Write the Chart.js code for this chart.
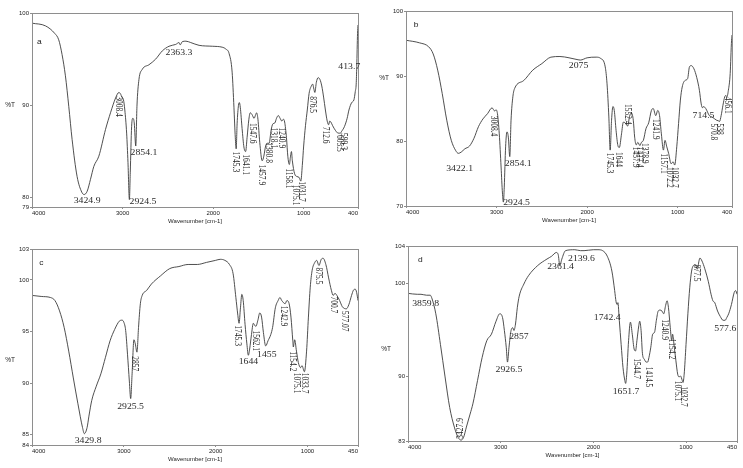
<!DOCTYPE html>
<html>
<head>
<meta charset="utf-8">
<script src="https://cdn.jsdelivr.net/npm/chart.js@4.4.1/dist/chart.umd.min.js"></script>
<style>
  html, body { margin: 0; padding: 0; background: #fff; }
  #wrap { position: relative; width: 743px; height: 468px; overflow: hidden; }
  #wrap canvas { position: absolute; }
</style>
</head>
<body>
<div id="wrap">
  <canvas id="chart-a" width="372" height="234" style="left:0;top:0"></canvas>
  <canvas id="chart-b" width="371" height="234" style="left:372px;top:0"></canvas>
  <canvas id="chart-c" width="372" height="234" style="left:0;top:234px"></canvas>
  <canvas id="chart-d" width="371" height="234" style="left:372px;top:234px"></canvas>
</div>
<script>
// ---- spectrum a ----
const waveA = [4000, 3850, 3750, 3705, 3668, 3631, 3594, 3557, 3502, 3450, 3424.9, 3391, 3354, 3317, 3262, 3188, 3133, 3077, 3040, 3020, 3008.4, 2990, 2975, 2955, 2940, 2924.5, 2915, 2900, 2886, 2871, 2854.1, 2841, 2819, 2782, 2708, 2635, 2561, 2487, 2413, 2376, 2363.3, 2340, 2300, 2247, 2155, 2007, 1900, 1860, 1823, 1790, 1770, 1755, 1745.3, 1735, 1720, 1710, 1700, 1680, 1660, 1641.1, 1625, 1605, 1590, 1570, 1547.6, 1530, 1520, 1505, 1485, 1457.9, 1440, 1420, 1400, 1380.8, 1360, 1340, 1318.1, 1300, 1280, 1260, 1240.9, 1225, 1210, 1190, 1175, 1158.1, 1145, 1135, 1125, 1100, 1075.1, 1050, 1031.7, 1015, 1000, 980, 960, 940, 915, 900, 890, 876.5, 860, 840, 820, 800, 780, 760, 740, 725, 712.6, 700, 680, 650, 620, 605.5, 599.3, 580, 550, 520, 500, 470, 445, 430, 420, 413.7, 405, 400];
const transA = [98.9, 98.6, 97.8, 97.1, 95.5, 93.2, 89.9, 86.3, 82.3, 80.6, 80.35, 80.7, 82.0, 83.4, 84.5, 87.4, 89.2, 90.8, 91.4, 91.2, 90.9, 90.6, 89.5, 87.0, 83.8, 79.8, 82.7, 87.7, 88.6, 88.1, 85.6, 89.9, 92.8, 93.9, 94.4, 95.0, 95.9, 96.4, 96.6, 96.8, 96.55, 96.9, 96.95, 96.8, 96.5, 96.4, 96.3, 96.1, 95.6, 93.6, 89.8, 86.5, 85.3, 88.0, 90.0, 90.3, 89.8, 87.5, 85.5, 85.0, 86.5, 88.5, 89.2, 89.0, 88.6, 89.0, 89.2, 88.5, 86.0, 84.0, 84.5, 85.6, 85.9, 85.9, 87.3, 88.0, 88.1, 88.6, 88.9, 88.6, 88.3, 88.5, 88.2, 86.5, 84.5, 83.6, 84.5, 85.0, 84.0, 82.6, 82.3, 82.2, 81.8, 83.5, 85.6, 87.8, 89.5, 91.3, 92.1, 92.3, 91.9, 91.4, 92.5, 93.0, 92.8, 92.1, 90.9, 89.5, 88.3, 87.9, 88.3, 88.2, 87.8, 87.3, 87.0, 87.0, 86.95, 87.2, 87.7, 88.6, 89.5, 90.3, 90.6, 91.5, 92.3, 94.2, 97.8, 98.7];
const xTicksA = [400, 1000, 2000, 3000, 4000];
const yTicksA = [79, 80, 90, 100];
// [label, wavenumber, %T, orientation]
const peaksA = [
  ['3424.9', 3391, 79.6, 'h'], ['3008.4', 3041, 91.0, 'v'], ['2854.1', 2764, 84.8, 'h'],
  ['2924.5', 2775, 79.5, 'h'], ['2363.3', 2377, 95.7, 'h'], ['1745.3', 1750, 85.0, 'v'],
  ['1641.1', 1647, 84.7, 'v'], ['1547.6', 1565, 88.1, 'v'], ['1457.9', 1462, 83.6, 'v'],
  ['1380.8', 1388, 86.0, 'v'], ['1318.1', 1337, 87.6, 'v'], ['1240.9', 1248, 87.6, 'v'],
  ['1158.1', 1167, 83.2, 'v'], ['1075.1', 1086, 81.4, 'v'], ['1031.7', 1027, 81.8, 'v'],
  ['876.5', 902, 91.0, 'v'], ['712.6', 754, 87.7, 'v'], ['605.5', 606, 86.8, 'v'],
  ['599.3', 562, 87.0, 'v'], ['413.7', 496, 94.2, 'h']
];

// ---- spectrum b ----
const waveB = [4000, 3850, 3750, 3700, 3650, 3600, 3550, 3500, 3450, 3422.1, 3390, 3350, 3300, 3250, 3200, 3150, 3100, 3050, 3020, 3008.4, 2990, 2970, 2950, 2935, 2924.5, 2915, 2900, 2885, 2870, 2854.1, 2840, 2820, 2800, 2700, 2600, 2500, 2400, 2300, 2200, 2100, 2075, 2000, 1900, 1850, 1800, 1780, 1760, 1745.3, 1730, 1715, 1700, 1680, 1660, 1644, 1620, 1600, 1580, 1552.4, 1530, 1510, 1490, 1475, 1457.9, 1440, 1417.4, 1400, 1378.9, 1350, 1320, 1290, 1270, 1241.9, 1220, 1200, 1180, 1157.1, 1140, 1120, 1100, 1072.2, 1050, 1032.7, 1010, 990, 970, 950, 920, 890, 870, 850, 820, 790, 760, 740, 725, 714.5, 690, 650, 620, 570.8, 550, 538, 520, 500, 480, 466, 456.1, 440, 420, 405, 400];
const transB = [95.5, 95.1, 94.5, 93.4, 90.9, 87.3, 83.2, 80.1, 78.5, 78.1, 78.3, 78.8, 79.2, 80.4, 82.2, 83.4, 84.2, 85.1, 84.6, 84.8, 84.2, 81.1, 76.0, 72.0, 70.6, 72.9, 79.1, 81.4, 80.6, 77.6, 83.2, 86.8, 88.1, 89.3, 90.9, 91.9, 92.9, 93.0, 92.8, 92.5, 92.45, 92.8, 92.9, 92.7, 91.4, 88.8, 83.7, 78.6, 83.2, 85.3, 84.7, 81.6, 79.3, 79.0, 81.1, 82.9, 82.8, 82.3, 83.9, 84.3, 83.2, 80.6, 79.4, 79.8, 79.3, 79.8, 80.1, 81.9, 82.8, 84.7, 85.0, 83.9, 84.7, 83.9, 81.1, 78.6, 80.1, 79.1, 78.1, 76.5, 76.8, 76.3, 79.1, 82.7, 86.3, 88.3, 89.3, 89.6, 91.4, 91.6, 91.1, 89.8, 87.8, 85.7, 85.1, 85.3, 85.0, 83.9, 83.7, 83.2, 83.1, 83.0, 83.9, 85.5, 86.8, 87.0, 86.8, 87.8, 90.4, 95.5, 96.3];
const xTicksB = [400, 1000, 2000, 3000, 4000];
const yTicksB = [70, 80, 90, 100];
const peaksB = [
  ['3422.1', 3408, 75.7, 'h'], ['3008.4', 3038, 83.9, 'v'], ['2854.1', 2761, 76.5, 'h'],
  ['2924.5', 2779, 70.5, 'h'], ['2075', 2095, 91.6, 'h'], ['1745.3', 1747, 78.2, 'v'],
  ['1644', 1651, 78.3, 'v'], ['1552.4', 1558, 85.7, 'v'], ['1457.9', 1466, 79.1, 'v'],
  ['1417.4', 1418, 79.1, 'v'], ['1378.9', 1362, 79.7, 'v'], ['1241.9', 1244, 83.4, 'v'],
  ['1157.1', 1159, 78.1, 'v'], ['1072.2', 1085, 76.0, 'v'], ['1032.7', 1029, 76.0, 'v'],
  ['714.5', 715, 83.9, 'h'], ['570.8', 608, 82.7, 'v'], ['538', 541, 82.7, 'v'],
  ['456.1', 445, 86.8, 'v']
];

// ---- spectrum c ----
const waveC = [4000, 3900, 3800, 3750, 3700, 3650, 3600, 3550, 3500, 3450, 3429.8, 3400, 3380, 3350, 3300, 3250, 3200, 3150, 3100, 3050, 3020, 3000, 2980, 2960, 2940, 2925.5, 2910, 2890, 2875, 2857, 2840, 2820, 2800, 2750, 2700, 2600, 2500, 2400, 2300, 2200, 2100, 2000, 1950, 1900, 1850, 1810, 1780, 1760, 1745.3, 1730, 1715, 1700, 1680, 1660, 1644, 1630, 1610, 1590, 1575, 1562.1, 1540, 1520, 1500, 1480, 1455, 1430, 1400, 1380, 1350, 1320, 1300, 1280, 1242.9, 1225, 1200, 1180, 1160, 1154.2, 1140, 1120, 1100, 1075.1, 1060, 1033.7, 1010, 990, 970, 950, 920, 900, 875.5, 850, 830, 800, 770, 740, 720, 700.7, 680, 650, 620, 577.07, 550, 520, 500, 480, 465, 450];
const transC = [98.5, 98.4, 98.3, 98.0, 97.0, 95.4, 93.1, 90.5, 88.0, 85.7, 85.1, 85.7, 86.8, 88.3, 89.7, 90.9, 92.5, 94.1, 95.2, 96.0, 96.1, 95.9, 95.1, 92.8, 90.2, 88.5, 90.9, 94.2, 93.8, 93.0, 95.4, 97.7, 98.5, 99.0, 99.6, 100.4, 101.1, 101.3, 101.5, 101.5, 101.7, 101.9, 102.0, 101.9, 101.5, 100.6, 98.3, 96.7, 95.8, 97.3, 98.6, 98.0, 95.7, 93.8, 92.7, 93.3, 94.7, 95.8, 95.6, 95.5, 96.1, 96.8, 96.4, 94.9, 93.6, 94.1, 94.7, 95.4, 97.3, 98.0, 98.3, 98.0, 97.7, 98.0, 97.7, 96.4, 94.1, 93.5, 94.2, 93.1, 92.0, 91.5, 91.7, 91.1, 93.1, 96.4, 99.3, 100.9, 101.7, 101.9, 101.4, 102.0, 102.1, 101.5, 100.2, 99.0, 98.5, 98.7, 98.5, 98.0, 97.4, 97.2, 97.6, 98.5, 99.0, 99.1, 98.8, 98.0];
const xTicksC = [450, 1000, 2000, 3000, 4000];
const yTicksC = [84, 85, 90, 95, 100, 103];
const peaksC = [
  ['3429.8', 3389, 84.4, 'h'], ['2925.5', 2927, 87.7, 'h'], ['2857', 2880, 92.6, 'v'],
  ['1745.3', 1759, 95.6, 'v'], ['1644', 1643, 92.0, 'h'], ['1562.1', 1570, 95.1, 'v'],
  ['1455', 1443, 92.7, 'h'], ['1242.9', 1261, 97.5, 'v'], ['1154.2', 1163, 93.1, 'v'],
  ['1075.1', 1115, 91.0, 'v'], ['1033.7', 1035, 91.0, 'v'], ['875.5', 879, 101.2, 'v'],
  ['700.7', 715, 98.4, 'v'], ['577.07', 599, 97.0, 'v']
];

// ---- spectrum d ----
const waveD = [4000, 3900, 3859.8, 3800, 3760, 3740, 3700, 3650, 3600, 3550, 3500, 3460, 3427.9, 3400, 3370, 3330, 3300, 3250, 3200, 3150, 3100, 3050, 3010, 2980, 2960, 2940, 2926.5, 2910, 2890, 2870, 2857, 2840, 2820, 2800, 2750, 2700, 2600, 2500, 2450, 2400, 2380, 2361.4, 2340, 2300, 2200, 2139.6, 2100, 2000, 1950, 1900, 1850, 1800, 1770, 1755, 1742.4, 1735, 1720, 1700, 1680, 1660, 1651.7, 1640, 1620, 1600, 1580, 1560, 1544.7, 1530, 1510, 1500, 1485, 1470, 1450, 1430, 1414.5, 1400, 1380, 1360, 1340, 1320, 1300, 1280, 1260, 1240.9, 1220, 1205, 1190, 1170, 1154.2, 1145, 1130, 1110, 1090, 1075.1, 1060, 1040, 1032.7, 1020, 1000, 980, 960, 940, 920, 900, 877.5, 860, 850, 820, 790, 760, 730, 710, 690, 660, 630, 600, 577.6, 560, 540, 510, 480, 465, 450];
const transD = [98.9, 98.8, 98.8, 98.7, 98.7, 98.3, 96.7, 93.4, 89.9, 86.6, 84.5, 83.4, 83.1, 83.4, 84.5, 85.9, 87.0, 89.5, 92.0, 93.8, 94.5, 95.9, 96.7, 96.3, 94.9, 93.1, 91.5, 93.1, 94.8, 95.2, 94.9, 95.6, 97.4, 98.6, 99.9, 100.8, 101.9, 102.6, 102.9, 103.3, 103.1, 101.9, 102.6, 103.5, 103.6, 103.5, 103.5, 103.6, 103.6, 103.5, 102.9, 101.3, 99.2, 98.0, 97.7, 97.9, 96.0, 93.4, 90.9, 89.5, 89.2, 90.2, 93.8, 95.8, 94.5, 92.9, 92.7, 93.8, 95.4, 95.9, 94.9, 92.4, 91.8, 91.5, 91.5, 92.0, 93.1, 94.5, 94.7, 96.0, 97.0, 97.1, 97.0, 96.7, 97.6, 98.1, 97.4, 95.2, 93.8, 94.5, 93.4, 91.7, 90.2, 89.9, 90.0, 89.5, 89.3, 90.2, 93.4, 96.7, 99.5, 101.3, 101.9, 102.0, 101.5, 102.4, 102.7, 102.2, 101.3, 100.2, 98.8, 98.1, 97.9, 97.0, 96.4, 96.0, 96.0, 96.3, 96.7, 97.7, 99.0, 99.2, 98.8];
const xTicksD = [450, 1000, 2000, 3000, 4000];
const yTicksD = [83, 90, 100, 104];
const peaksD = [
  ['3859.8', 3810, 97.8, 'h'], ['3427.9', 3432, 83.25, 'u'], ['2926.5', 2911, 90.65, 'h'],
  ['2857', 2803, 94.2, 'h'], ['2361.4', 2354, 101.75, 'h'], ['2139.6', 2128, 102.6, 'h'],
  ['1742.4', 1851, 96.2, 'h'], ['1651.7', 1647, 88.3, 'h'], ['1544.7', 1535, 91.9, 'v'],
  ['1414.5', 1409, 91.0, 'v'], ['1240.9', 1233, 96.1, 'v'], ['1154.2', 1151, 94.0, 'v'],
  ['1075.1', 1093, 89.5, 'v'], ['1032.7', 1025, 88.9, 'v'], ['877.5', 881, 102.0, 'v'],
  ['577.6', 576, 95.1, 'h']
];

Chart.defaults.font.family = '"Liberation Sans", Arial, sans-serif';
Chart.defaults.color = '#222';

const STRETCH = 1.3; // the scanned figure is wider than tall

// frame, peak labels, panel letter and the %T caption
function annotate(peaks, letter, letterAt, percentAt) {
    return {
        id: 'annotate',
        afterDatasetsDraw(chart) {
            const { ctx, chartArea: area, scales: { x, y } } = chart;
            ctx.save();
            ctx.strokeStyle = '#8e8e8e';
            ctx.lineWidth = 1;
            ctx.strokeRect(Math.round(area.left) + 0.5, Math.round(area.top) + 0.5,
                Math.round(area.width), Math.round(area.height));

            ctx.fillStyle = '#2a2a2a';
            ctx.font = '7.5px "Liberation Serif", "Times New Roman", serif';
            peaks.forEach(([text, w, t, dir]) => {
                ctx.save();
                ctx.translate(x.getPixelForValue(w), y.getPixelForValue(t));
                if (dir === 'h') {
                    ctx.scale(STRETCH, 1);
                    ctx.textAlign = 'center';
                } else {
                    ctx.rotate(dir === 'v' ? Math.PI / 2 : -Math.PI / 2);
                    ctx.scale(1, STRETCH);
                    ctx.textAlign = 'left';
                }
                ctx.textBaseline = 'middle';
                ctx.fillText(text, 0, 0);
                ctx.restore();
            });

            ctx.font = '6.5px "Liberation Sans", Arial, sans-serif';
            ctx.fillStyle = '#222';
            ctx.textAlign = 'center';
            ctx.textBaseline = 'middle';
            ctx.save();
            ctx.translate(x.getPixelForValue(letterAt[0]), y.getPixelForValue(letterAt[1]));
            ctx.scale(STRETCH, 1);
            ctx.fillText(letter, 0, 0);
            ctx.restore();

            ctx.fillText('%T', area.left - 22, y.getPixelForValue(percentAt));
            ctx.restore();
        }
    };
}

function drawPanel(id, wave, trans, xTicks, yTicks, peaks, letter, letterAt, percentAt, box) {
    const canvas = document.getElementById(id);
    const W = canvas.width, H = canvas.height;
    const axisH = 18;
    const points = wave.map((w, i) => ({ x: w, y: trans[i] }));

    new Chart(canvas, {
        type: 'line',
        data: {
            datasets: [{
                data: points,
                borderColor: '#3b3b3b',
                borderWidth: 0.9,
                pointRadius: 0,
                cubicInterpolationMode: 'monotone',
                fill: false
            }]
        },
        options: {
            responsive: false,
            animation: false,
            devicePixelRatio: 1,
            layout: { padding: { left: 2, top: box.top, right: W - box.right, bottom: H - box.bottom - axisH } },
            plugins: { legend: { display: false }, tooltip: { enabled: false } },
            scales: {
                x: {
                    type: 'linear',
                    reverse: true,
                    min: xTicks[0],
                    max: xTicks[xTicks.length - 1],
                    afterBuildTicks: s => { s.ticks = xTicks.map(v => ({ value: v })); },
                    afterFit: s => { s.height = axisH; },
                    border: { display: false },
                    grid: { drawOnChartArea: false, tickLength: 2, color: '#8e8e8e' },
                    ticks: {
                        font: { size: 6 },
                        align: 'inner',
                        maxRotation: 0,
                        autoSkip: false,
                        padding: 1,
                        callback: v => String(v)
                    },
                    title: { display: true, text: 'Wavenumber [cm-1]', font: { size: 6 }, padding: 0 }
                },
                y: {
                    type: 'linear',
                    min: yTicks[0],
                    max: yTicks[yTicks.length - 1],
                    afterBuildTicks: s => { s.ticks = yTicks.map(v => ({ value: v })); },
                    afterFit: s => { s.width = box.left - 2; },
                    border: { display: false },
                    grid: { drawOnChartArea: false, tickLength: 2, color: '#8e8e8e' },
                    ticks: {
                        font: { size: 6 },
                        autoSkip: false,
                        padding: 1,
                        callback: v => String(v)
                    }
                }
            }
        },
        plugins: [annotate(peaks, letter, letterAt, percentAt)]
    });
}

drawPanel('chart-a', waveA, transA, xTicksA, yTicksA, peaksA, 'a', [3919, 96.8], 90.0,
    { left: 32, top: 13, right: 358, bottom: 207 });
drawPanel('chart-b', waveB, transB, xTicksB, yTicksB, peaksB, 'b', [3889, 97.8], 89.6,
    { left: 34, top: 11, right: 360, bottom: 206 });
drawPanel('chart-c', waveC, transC, xTicksC, yTicksC, peaksC, 'c', [3898, 101.6], 92.2,
    { left: 32, top: 15, right: 358, bottom: 211 });
drawPanel('chart-d', waveD, transD, xTicksD, yTicksD, peaksD, 'd', [3867, 102.5], 92.9,
    { left: 36, top: 12, right: 365, bottom: 207 });
</script>
</body>
</html>
